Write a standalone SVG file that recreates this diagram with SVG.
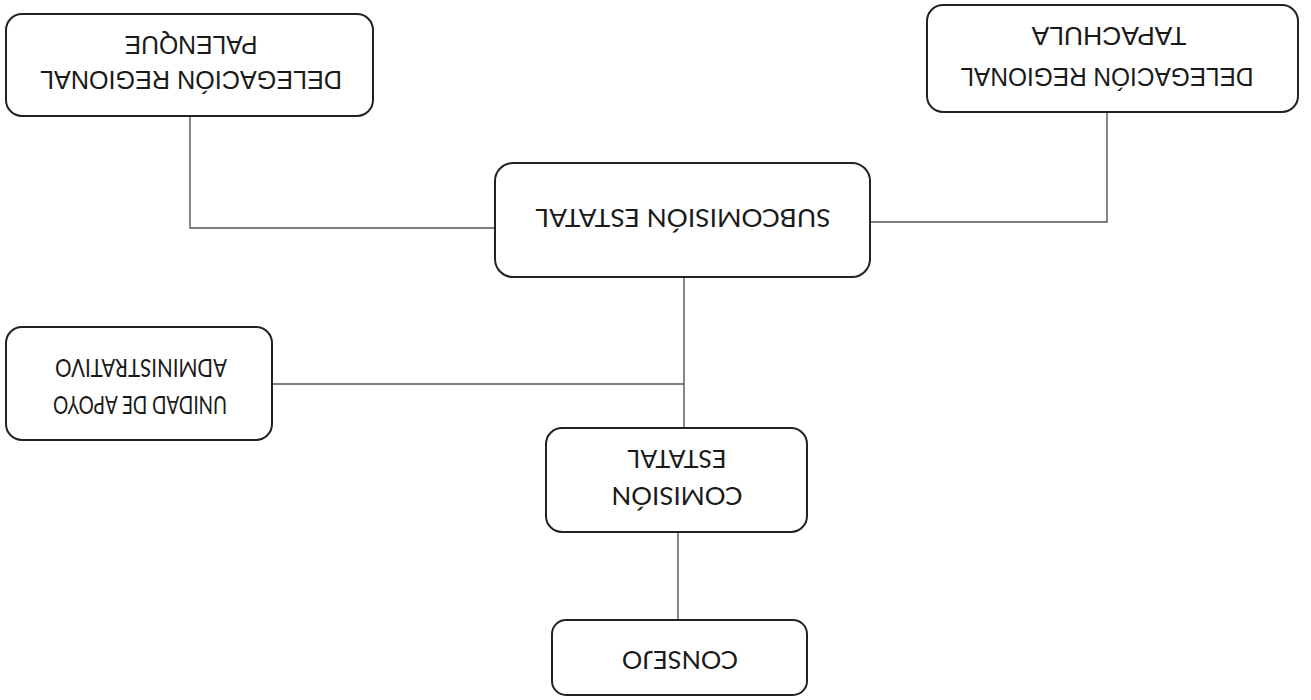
<svg xmlns="http://www.w3.org/2000/svg" width="1311" height="700" viewBox="0 0 1311 700">
<style>
.box{fill:#fff;stroke:#222;stroke-width:2}
.c{fill:none;stroke:#555;stroke-width:1.4}
.a{font-family:"Liberation Sans",Arial,sans-serif;font-size:26px;fill:#1a1a1a;text-anchor:middle}
.b{font-family:Lato,"Open Sans",sans-serif;font-size:25px;fill:#1a1a1a;text-anchor:middle}
</style>
<rect width="1311" height="700" fill="#fff"/>
<g id="connectors">
<polyline class="c" points="190,116 190,228 495,228"/>
<polyline class="c" points="1107,112 1107,222 870,222"/>
<line class="c" x1="684" y1="277" x2="684" y2="428"/>
<line class="c" x1="272" y1="384" x2="684" y2="384"/>
<line class="c" x1="678" y1="532" x2="678" y2="620"/>
</g>
<g id="palenque">
<rect class="box" x="6" y="14" width="367" height="102" rx="16"/>
<text class="a" x="191" y="89" transform="rotate(180 191 80)" textLength="302" lengthAdjust="spacingAndGlyphs">DELEGACIÓN REGIONAL</text>
<text class="a" x="191" y="54" transform="rotate(180 191 45)" textLength="133" lengthAdjust="spacingAndGlyphs">PALENQUE</text>
</g>
<g id="tapachula">
<rect class="box" x="927" y="5" width="371" height="107" rx="16"/>
<text class="a" x="1107" y="86" transform="rotate(180 1107 77)" textLength="293" lengthAdjust="spacingAndGlyphs">DELEGACIÓN REGIONAL</text>
<text class="a" x="1109" y="45" transform="rotate(180 1109 36)" textLength="155" lengthAdjust="spacingAndGlyphs">TAPACHULA</text>
</g>
<g id="subcomision">
<rect class="box" x="495" y="163" width="375" height="114" rx="18"/>
<text class="b" x="683" y="227" transform="rotate(180 683 218)" textLength="295" lengthAdjust="spacingAndGlyphs">SUBCOMISIÓN ESTATAL</text>
</g>
<g id="unidad">
<rect class="box" x="6" y="327" width="266" height="113" rx="16"/>
<text class="b" x="140" y="414" transform="rotate(180 140 405)" textLength="174" lengthAdjust="spacingAndGlyphs">UNIDAD DE APOYO</text>
<text class="b" x="141" y="377" transform="rotate(180 141 368)" textLength="172" lengthAdjust="spacingAndGlyphs">ADMINISTRATIVO</text>
</g>
<g id="comision">
<rect class="box" x="546" y="428" width="261" height="104" rx="16"/>
<text class="b" x="677" y="505" transform="rotate(180 677 496)" textLength="131" lengthAdjust="spacingAndGlyphs">COMISIÓN</text>
<text class="b" x="677" y="468" transform="rotate(180 677 459)" textLength="99" lengthAdjust="spacingAndGlyphs">ESTATAL</text>
</g>
<g id="consejo">
<rect class="box" x="552" y="620" width="255" height="75" rx="14"/>
<text class="b" x="680" y="669" transform="rotate(180 680 660)" textLength="116" lengthAdjust="spacingAndGlyphs">CONSEJO</text>
</g>
</svg>
